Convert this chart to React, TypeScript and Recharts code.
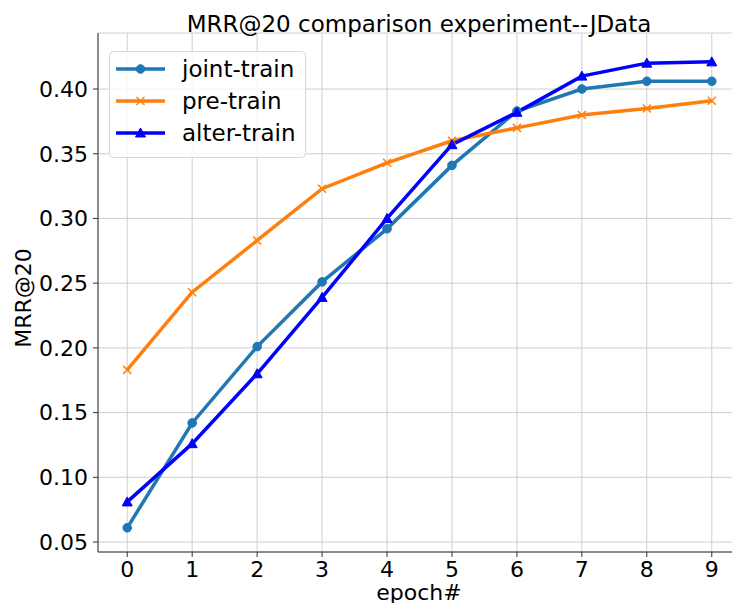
import React from "react";
import {
  LineChart,
  Line,
  XAxis,
  YAxis,
  CartesianGrid,
  Legend,
} from "recharts";

const epochs = [0, 1, 2, 3, 4, 5, 6, 7, 8, 9];
const jointTrain = [0.061, 0.142, 0.201, 0.251, 0.292, 0.341, 0.383, 0.4, 0.406, 0.406];
const preTrain = [0.183, 0.243, 0.283, 0.323, 0.343, 0.36, 0.37, 0.38, 0.385, 0.391];
const alterTrain = [0.081, 0.126, 0.18, 0.239, 0.3, 0.357, 0.382, 0.41, 0.42, 0.421];
const xTicks = [0, 1, 2, 3, 4, 5, 6, 7, 8, 9];
const yTicks = [0.05, 0.1, 0.15, 0.2, 0.25, 0.3, 0.35, 0.4];

const data = epochs.map((e, i) => ({
  epoch: e,
  joint: jointTrain[i],
  pre: preTrain[i],
  alter: alterTrain[i],
}));

const FONT = "'DejaVu Sans', sans-serif";
const SERIES = [
  { key: "joint", name: "joint-train", color: "#1f77b4", marker: "circle" },
  { key: "pre", name: "pre-train", color: "#ff7f0e", marker: "x" },
  { key: "alter", name: "alter-train", color: "#0000ff", marker: "triangle" },
];

function Marker({ cx, cy, type, color }: { cx: number; cy: number; type: string; color: string }) {
  if (cx == null || cy == null) return null;
  if (type === "circle") return <circle cx={cx} cy={cy} r={4.3} fill={color} stroke={color} />;
  if (type === "x") {
    const s = 4;
    return (
      <g stroke={color} strokeWidth={1.5}>
        <line x1={cx - s} y1={cy - s} x2={cx + s} y2={cy + s} />
        <line x1={cx - s} y1={cy + s} x2={cx + s} y2={cy - s} />
      </g>
    );
  }
  const s = 5;
  return (
    <polygon
      points={`${cx},${cy - s} ${cx - s},${cy + s * 0.8} ${cx + s},${cy + s * 0.8}`}
      fill={color}
      stroke={color}
    />
  );
}

function makeDot(type: string, color: string) {
  return (props: any) => (
    <Marker key={`${type}-${props.index}`} cx={props.cx} cy={props.cy} type={type} color={color} />
  );
}

function renderLegend() {
  return (
    <svg width={198} height={108} style={{ display: "block" }}>
      <rect x={0.5} y={0.5} width={196} height={106} rx={4} fill="#fff" fillOpacity={0.8} stroke="#d8d8d8" />
      {SERIES.map((s, i) => {
        const y = 18 + i * 32;
        return (
          <g key={s.key}>
            <line x1={7} y1={y} x2={56} y2={y} stroke={s.color} strokeWidth={3.5} />
            <Marker cx={31.5} cy={y} type={s.marker} color={s.color} />
            <text x={73} y={y + 8} fontSize={23} fontFamily={FONT} fill="#000">
              {s.name}
            </text>
          </g>
        );
      })}
    </svg>
  );
}

export default function App() {
  return (
    <div style={{ position: "absolute", left: 0, top: 0, width: 732, height: 603, overflow: "hidden", background: "#fff" }}>
      <svg width={732} height={603} style={{ position: "absolute", left: 0, top: 0, pointerEvents: "none", zIndex: 2 }}>
        <text x={419} y={32} textAnchor="middle" fontSize={23} fontFamily={FONT} fill="#000">
          MRR@20 comparison experiment--JData
        </text>
        <text
          x={31}
          y={298}
          textAnchor="middle"
          fontSize={22}
          fontFamily={FONT}
          fill="#000"
          transform="rotate(-90 31 298)"
        >
          MRR@20
        </text>
        <text x={419} y={600} textAnchor="middle" fontSize={22} fontFamily={FONT} fill="#000">
          epoch#
        </text>
      </svg>
      <LineChart
        width={745}
        height={603}
        data={data}
        margin={{ top: 33, right: 4, left: 0, bottom: 0 }}
      >
        <CartesianGrid stroke="#cfcfcf" strokeWidth={1} />
        <XAxis
          dataKey="epoch"
          type="number"
          domain={[-0.45, 9.45]}
          ticks={xTicks}
          height={51}
          interval={0}
          tickSize={5}
          tickMargin={4}
          stroke="#333"
          tick={{ fontSize: 22, fontFamily: FONT, fill: "#000" }}
        />
        <XAxis
          xAxisId="top"
          orientation="top"
          dataKey="epoch"
          type="number"
          domain={[-0.45, 9.45]}
          height={0}
          tick={false}
          tickLine={false}
          stroke="#333"
        />
        <YAxis
          type="number"
          domain={[0.0423, 0.4433]}
          ticks={yTicks}
          width={98}
          interval={0}
          tickSize={5}
          tickMargin={5}
          stroke="#333"
          tickFormatter={(v: number) => v.toFixed(2)}
          tick={{ fontSize: 22, fontFamily: FONT, fill: "#000" }}
        />
        <Legend
          layout="horizontal"
          verticalAlign="middle"
          align="center"
          content={renderLegend}
          wrapperStyle={{ position: "absolute", left: 109, top: 51, width: 198, height: 108 }}
        />
        {SERIES.map((s) => (
          <Line
            key={s.key}
            type="linear"
            dataKey={s.key}
            name={s.name}
            stroke={s.color}
            strokeWidth={3.5}
            dot={makeDot(s.marker, s.color)}
            activeDot={false}
            isAnimationActive={false}
          />
        ))}
      </LineChart>
    </div>
  );
}
